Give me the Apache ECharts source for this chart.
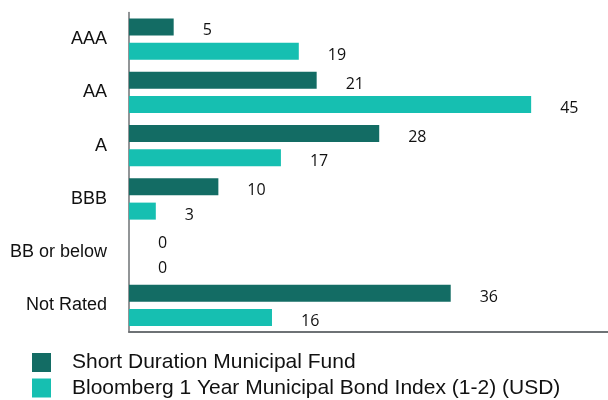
<!DOCTYPE html>
<html>
<head>
<meta charset="utf-8">
<script src="https://cdn.jsdelivr.net/npm/echarts@6/dist/echarts.min.js"></script>
<style>
html,body{margin:0;padding:0;background:#fff;}
#chart{width:608px;height:400px;}
</style>
</head>
<body>
<div id="chart"></div>
<script>
const categories = ['AAA', 'AA', 'A', 'BBB', 'BB or below', 'Not Rated'];
const fundName = 'Short Duration Municipal Fund';
const indexName = 'Bloomberg 1 Year Municipal Bond Index (1-2) (USD)';
const fundValues = [5, 21, 28, 10, 0, 36];
const indexValues = [19, 45, 17, 3, 0, 16];

const chart = echarts.init(document.getElementById('chart'), null, {renderer: 'canvas'});
const labelCfg = {
  show: true,
  position: 'right',
  distance: 29,
  offset: [0, 4],
  color: '#111',
  fontFamily: 'Open Sans',
  fontSize: 16
};
const legendBase = {
  orient: 'vertical',
  left: 32,
  padding: 0,
  itemWidth: 19,
  itemHeight: 19,
  icon: 'rect',
  textStyle: {fontFamily: 'Liberation Sans', fontSize: 21, color: '#111', padding: [0, 0, 0, 16]}
};
chart.setOption({
  animation: false,
  backgroundColor: '#fff',
  grid: {left: 129, right: 0, top: 12.5, bottom: 68, containLabel: false},
  legend: [
    Object.assign({}, legendBase, {top: 352, data: [fundName]}),
    Object.assign({}, legendBase, {top: 377.5, data: [indexName]})
  ],
  xAxis: {
    type: 'value',
    min: 0,
    max: 53.6,
    axisLine: {show: true, lineStyle: {color: '#6e7275', width: 2}},
    axisTick: {show: false},
    axisLabel: {show: false},
    splitLine: {show: false}
  },
  yAxis: {
    type: 'category',
    inverse: true,
    data: categories,
    axisLine: {show: true, lineStyle: {color: '#6e7275', width: 1.5}},
    axisTick: {show: false},
    axisLabel: {fontFamily: 'Liberation Sans', fontSize: 18, color: '#111', margin: 22}
  },
  series: [
    {
      name: fundName,
      type: 'bar',
      data: fundValues,
      barWidth: 17,
      barGap: '44%',
      itemStyle: {color: '#136c64'},
      label: labelCfg
    },
    {
      name: indexName,
      type: 'bar',
      data: indexValues,
      barWidth: 17,
      itemStyle: {color: '#16bfb1'},
      label: labelCfg
    }
  ]
});
</script>
</body>
</html>
